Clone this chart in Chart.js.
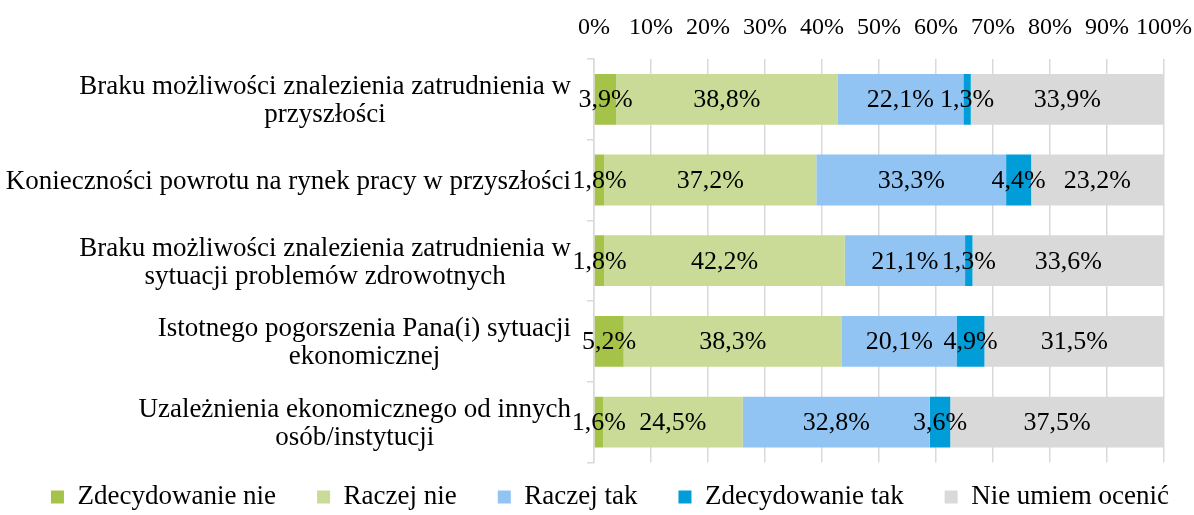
<!DOCTYPE html>
<html><head><meta charset="utf-8">
<script src="https://cdn.jsdelivr.net/npm/chart.js@4"></script>
<style>html,body{margin:0;padding:0;background:#fff}#wrap{width:1194px;height:515px}</style>
</head><body><div id="wrap"><canvas id="c" width="1194" height="515"></canvas></div>
<script>
const categories = [
  ["Braku możliwości znalezienia zatrudnienia w", "przyszłości"],
  ["Konieczności powrotu na rynek pracy w przyszłości"],
  ["Braku możliwości znalezienia zatrudnienia w", "sytuacji problemów zdrowotnych"],
  ["Istotnego pogorszenia Pana(i) sytuacji", "ekonomicznej"],
  ["Uzależnienia ekonomicznego od innych", "osób/instytucji"]
];
const seriesNames = ["Zdecydowanie nie", "Raczej nie", "Raczej tak", "Zdecydowanie tak", "Nie umiem ocenić"];
const zdecydowanieNie = [3.9, 1.8, 1.8, 5.2, 1.6];
const raczejNie = [38.8, 37.2, 42.2, 38.3, 24.5];
const raczejTak = [22.1, 33.3, 21.1, 20.1, 32.8];
const zdecydowanieTak = [1.3, 4.4, 1.3, 4.9, 3.6];
const nieUmiem = [33.9, 23.2, 33.6, 31.5, 37.5];
const xTickValues = [0, 10, 20, 30, 40, 50, 60, 70, 80, 90, 100];

const seriesValues = [zdecydowanieNie, raczejNie, raczejTak, zdecydowanieTak, nieUmiem];
const seriesColors = ["#A5C249", "#C9DB96", "#92C4F3", "#009DD9", "#D9D9D9"];

const FONT = "Liberation Serif";
const FS_TICK = 24, FS_DATA = 26, FS_CAT = 27, FS_LEG = 27;
const LABEL_RIGHT = 571;
const LINE_H = 28;
const X_AXIS_H = 59;
const LEGEND_H = 52.6;
const LEG_DY = 19.9;
const LEG_DX = 13;
const LEG_EXTRA = 300;

const fmt = v => v.toFixed(1).replace('.', ',') + '%';

const catLabels = {
  id: 'catLabels',
  afterDraw(chart) {
    const ctx = chart.ctx, y = chart.scales.y;
    ctx.save();
    ctx.font = FS_CAT + 'px "' + FONT + '"';
    ctx.fillStyle = '#000';
    ctx.textAlign = 'center';
    ctx.textBaseline = 'alphabetic';
    categories.forEach((lines, i) => {
      const w = Math.max(...lines.map(l => ctx.measureText(l).width));
      const cx = LABEL_RIGHT - w / 2;
      const cy = y.getPixelForValue(i);
      const base0 = cy + 9 - (lines.length - 1) * LINE_H / 2;
      lines.forEach((l, k) => {
        ctx.fillText(l, cx, base0 + k * LINE_H);
      });
    });
    ctx.restore();
  }
};

const dataLabels = {
  id: 'dataLabels',
  afterDatasetsDraw(chart) {
    const ctx = chart.ctx;
    ctx.save();
    ctx.font = FS_DATA + 'px "' + FONT + '"';
    ctx.fillStyle = '#000';
    ctx.textAlign = 'center';
    ctx.textBaseline = 'middle';
    chart.data.datasets.forEach((ds, di) => {
      const meta = chart.getDatasetMeta(di);
      meta.data.forEach((el, i) => {
        ctx.fillText(fmt(ds.data[i]), (el.x + el.base) / 2, el.y + 1);
      });
    });
    ctx.restore();
  }
};

const legendFix = {
  id: 'legendFix',
  afterInit(chart) {
    const lg = chart.legend;
    const f = lg.fit;
    lg.fit = function () {
      const mw = this.maxWidth;
      this.maxWidth = 4000;
      f.call(this);
      this.maxWidth = mw;
      this.width = mw;
      this.height = LEGEND_H;
    };
  },
  beforeDraw(chart) {
    const lg = chart.legend;
    lg.top -= LEG_DY; lg.left += LEG_DX - LEG_EXTRA; lg.right += LEG_DX + LEG_EXTRA;
  },
  afterDraw(chart) {
    const lg = chart.legend;
    lg.top += LEG_DY; lg.left -= LEG_DX - LEG_EXTRA; lg.right -= LEG_DX + LEG_EXTRA;
  }
};

new Chart(document.getElementById('c'), {
  type: 'bar',
  data: {
    labels: categories,
    datasets: seriesNames.map((n, i) => ({
      label: n,
      data: seriesValues[i],
      backgroundColor: seriesColors[i],
      borderWidth: 0,
      barPercentage: 0.63,
      categoryPercentage: 1
    }))
  },
  options: {
    indexAxis: 'y',
    responsive: false,
    animation: false,
    devicePixelRatio: 1,
    layout: { padding: 0 },
    scales: {
      x: {
        position: 'top',
        stacked: true,
        min: 0,
        max: 100,
        afterBuildTicks(s) { s.ticks = xTickValues.map(v => ({ value: v })); },
        afterFit(s) { s.height = X_AXIS_H; s.paddingRight = 30; s.paddingTop = 0; s.paddingBottom = 0; },
        ticks: {
          color: '#000',
          font: { family: FONT, size: FS_TICK },
          padding: 17,
          maxRotation: 0,
          minRotation: 0,
          autoSkip: false,
          callback: v => v + '%'
        },
        grid: { color: '#D9D9D9', lineWidth: 1.5, drawTicks: false },
        border: { display: false }
      },
      y: {
        stacked: true,
        afterFit(s) { s.width = 594; s.paddingTop = 0; s.paddingBottom = 0; },
        ticks: { display: false },
        grid: { drawOnChartArea: false, offset: true, tickLength: 7, color: '#D9D9D9', lineWidth: 1.5 },
        border: { display: true, color: '#D9D9D9', width: 1.5 }
      }
    },
    plugins: {
      legend: {
        position: 'bottom',
        labels: {
          color: '#000',
          font: { family: FONT, size: FS_LEG },
          boxWidth: 13,
          boxHeight: 13,
          padding: 41
        }
      },
      tooltip: { enabled: false }
    }
  },
  plugins: [legendFix, dataLabels, catLabels]
});
</script>
</body></html>
